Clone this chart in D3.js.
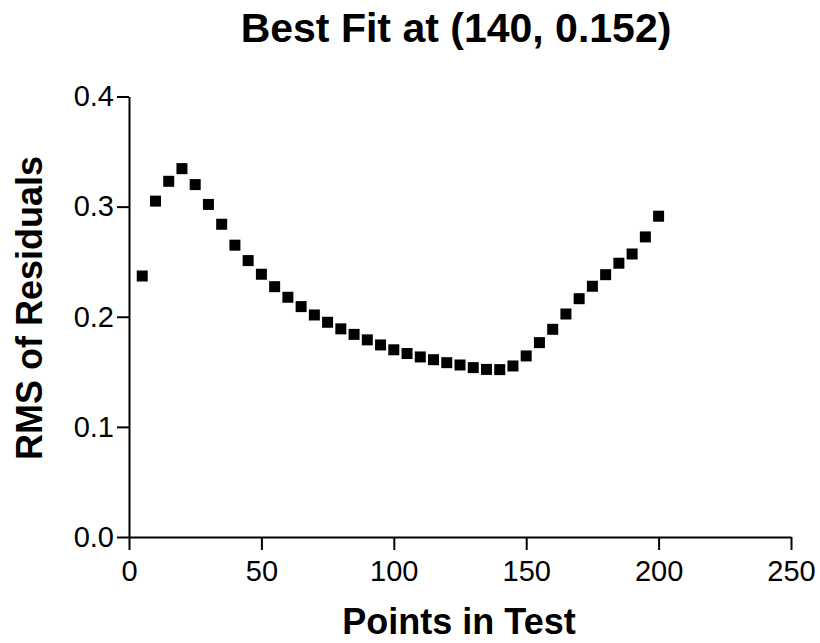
<!DOCTYPE html>
<html>
<head>
<meta charset="utf-8">
<script src="https://cdn.jsdelivr.net/npm/d3@7"></script>
<style>
  body { margin: 0; background: #fff; }
  svg text { font-family: "Liberation Sans", Arial, sans-serif; fill: #000; }
  .axis path, .axis line { stroke: #000; stroke-width: 2px; }
  .axis text { font-size: 29px; }
  .title { font-size: 41px; font-weight: bold; }
  .label { font-size: 36px; font-weight: bold; }
</style>
</head>
<body>
<svg class="chart" width="820" height="643"></svg>
<script>
const pointsInTest = [5, 10, 15, 20, 25, 30, 35, 40, 45, 50, 55, 60, 65, 70, 75, 80, 85, 90, 95, 100,
  105, 110, 115, 120, 125, 130, 135, 140, 145, 150, 155, 160, 165, 170, 175, 180, 185, 190, 195, 200];
const rmsResiduals = [0.237, 0.305, 0.323, 0.3345, 0.320, 0.302, 0.284, 0.265, 0.251, 0.2386,
  0.2273, 0.2177, 0.2092, 0.2016, 0.195, 0.189, 0.184, 0.179, 0.1744, 0.170,
  0.1666, 0.1635, 0.161, 0.1583, 0.1562, 0.1538, 0.1522, 0.152, 0.1553, 0.1644,
  0.1765, 0.1886, 0.2025, 0.2164, 0.2277, 0.2382, 0.2486, 0.257, 0.2725, 0.2913];
const xTicks = [0, 50, 100, 150, 200, 250];
const yTicks = [0.0, 0.1, 0.2, 0.3, 0.4];

const svg = d3.select("svg.chart");

const x = d3.scaleLinear().domain([0, 250]).range([129, 791]);
const y = d3.scaleLinear().domain([0, 0.4]).range([537, 96.5]);

svg.append("g")
  .attr("class", "axis")
  .attr("transform", "translate(0," + y(0) + ")")
  .call(d3.axisBottom(x).tickValues(xTicks).tickSize(13).tickSizeOuter(0).tickPadding(10))
  .call(g => g.selectAll("text").attr("dy", "0.71em"));

svg.append("g")
  .attr("class", "axis")
  .attr("transform", "translate(" + x(0) + ",0)")
  .call(d3.axisLeft(y).tickValues(yTicks).tickFormat(d3.format(".1f")).tickSize(12).tickSizeOuter(0).tickPadding(3));

svg.selectAll(".axis text").attr("font-family", null);

const size = 11;
svg.append("g")
  .selectAll("rect")
  .data(pointsInTest)
  .enter()
  .append("rect")
  .attr("x", d => x(d) - size / 2)
  .attr("y", (d, i) => y(rmsResiduals[i]) - size / 2)
  .attr("width", size)
  .attr("height", size)
  .attr("fill", "#000");

svg.append("text")
  .attr("class", "title")
  .attr("x", 456)
  .attr("y", 42)
  .attr("text-anchor", "middle")
  .text("Best Fit at (140, 0.152)");

svg.append("text")
  .attr("class", "label")
  .attr("x", 459)
  .attr("y", 634)
  .attr("text-anchor", "middle")
  .text("Points in Test");

svg.append("text")
  .attr("class", "label")
  .attr("transform", "translate(42,308) rotate(-90)")
  .attr("text-anchor", "middle")
  .text("RMS of Residuals");
</script>
</body>
</html>
